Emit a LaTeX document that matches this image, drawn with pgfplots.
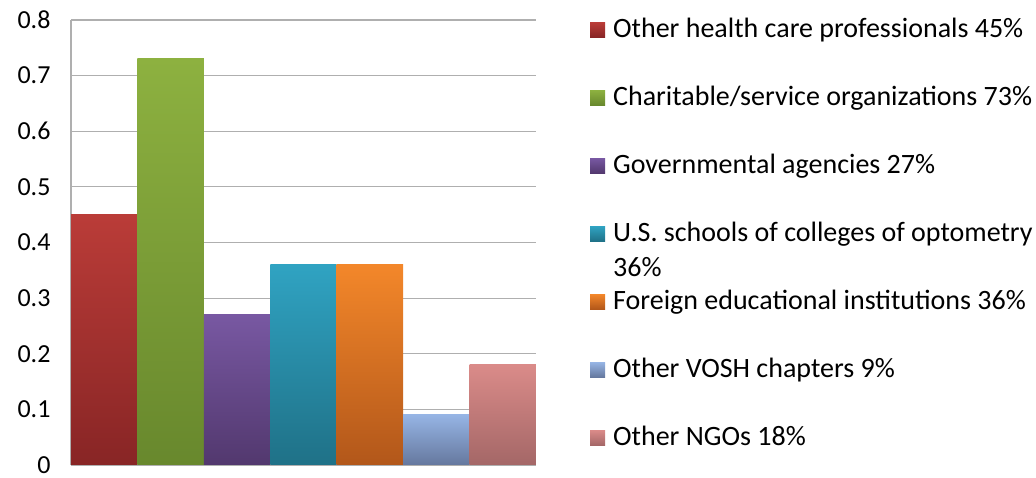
\documentclass[border=0pt]{standalone}
\usepackage{fontspec}
\setmainfont{Carlito}
\usepackage{pgfplots}
\pgfplotsset{compat=1.18}
\definecolor{redT}{HTML}{BA3C38}\definecolor{redB}{HTML}{882525}
\definecolor{greenT}{HTML}{8DB140}\definecolor{greenB}{HTML}{68882D}
\definecolor{purpleT}{HTML}{7858A2}\definecolor{purpleB}{HTML}{52386E}
\definecolor{tealT}{HTML}{30A3C2}\definecolor{tealB}{HTML}{1F7187}
\definecolor{orangeT}{HTML}{F3872A}\definecolor{orangeB}{HTML}{B2571A}
\definecolor{blueT}{HTML}{96B4E4}\definecolor{blueB}{HTML}{65789E}
\definecolor{pinkT}{HTML}{DA8B89}\definecolor{pinkB}{HTML}{A46767}
\definecolor{gridc}{HTML}{AFAFAF}
\begin{document}
\begin{tikzpicture}
\useasboundingbox (0pt,0pt) rectangle (1036pt,478pt);
\begin{axis}[
  at={(71pt,13pt)}, anchor=south west,
  scale only axis, width=465pt, height=445pt,
  ybar,
  xmin=-0.5, xmax=6.5, ymin=0, ymax=0.8,
  ytick={0,0.1,...,0.8}, xtick=\empty,
  ymajorgrids, grid style={gridc, line width=1.2pt},
  axis x line*=bottom, axis y line*=left,
  axis line style={gridc, line width=1.2pt, -},
  major tick length=0pt,
  tick label style={font=\fontsize{26}{31}\selectfont},
  /pgf/number format/assume math mode=true,
  /pgf/number format/fixed, /pgf/number format/precision=1,
  yticklabel style={xshift=-17pt},
  legend style={at={(rel axis cs:1.1161,1)}, anchor=north west, draw=none,
    fill=none, inner sep=0pt, column sep=8pt, row sep=0pt,
    font=\fontsize{28}{34}\selectfont,
    nodes={inner sep=0pt, text height=17pt, text depth=51pt, anchor=base west}},
  legend cell align=left,
  mybar/.style={draw=none, bar width=1, bar shift=0pt,
    legend image code/.code={\fill[##1] (0pt,0pt) rectangle (15pt,15pt);}},
]
\addplot[mybar, top color=redT, bottom color=redB] coordinates {(0,0.45)};
\addplot[mybar, top color=greenT, bottom color=greenB] coordinates {(1,0.73)};
\addplot[mybar, top color=purpleT, bottom color=purpleB] coordinates {(2,0.27)};
\addplot[mybar, top color=tealT, bottom color=tealB] coordinates {(3,0.36)};
\addplot[mybar, top color=orangeT, bottom color=orangeB] coordinates {(4,0.36)};
\addplot[mybar, top color=blueT, bottom color=blueB] coordinates {(5,0.09)};
\addplot[mybar, top color=pinkT, bottom color=pinkB] coordinates {(6,0.18)};
\legend{Other health care professionals 45\%,
  Charitable/service organizations 73\%,
  Governmental agencies 27\%,
  {\smash{\rlap{\raisebox{-35pt}{36\%}}}U.S. schools of colleges of optometry},
  Foreign educational institutions 36\%,
  Other VOSH chapters 9\%,
  Other NGOs 18\%}
\end{axis}
\end{tikzpicture}
\end{document}
